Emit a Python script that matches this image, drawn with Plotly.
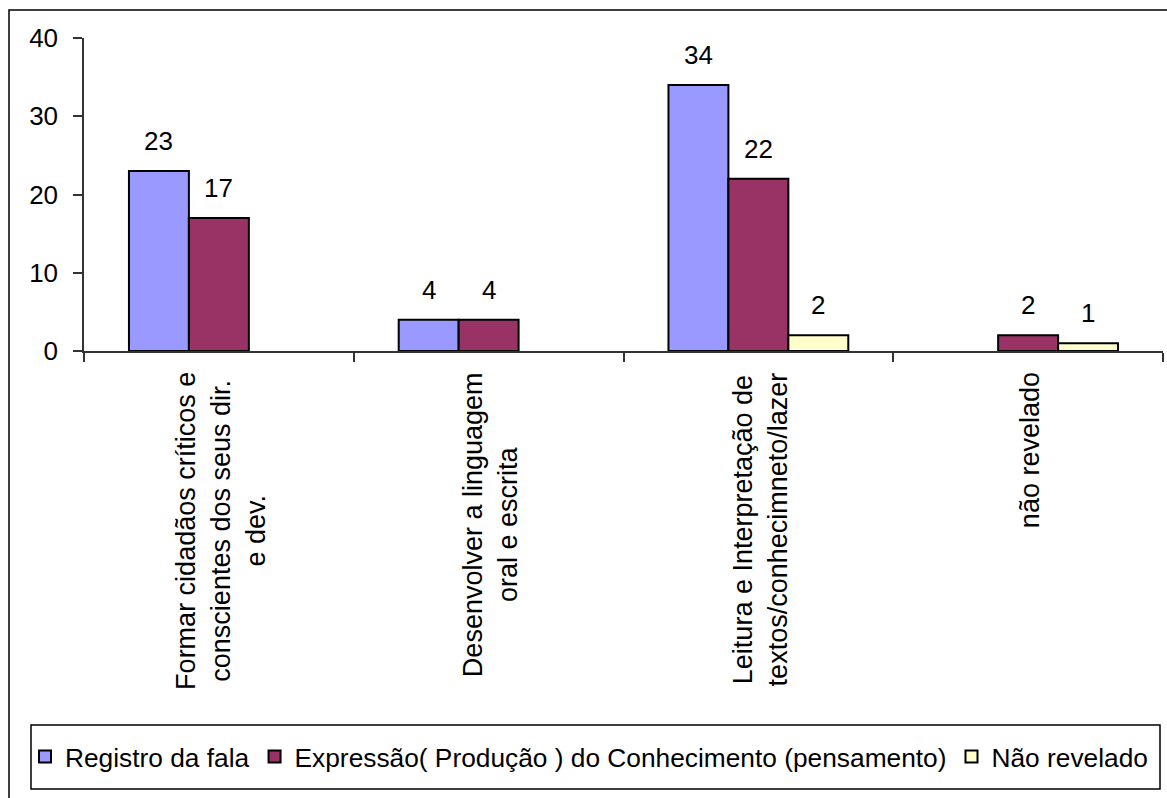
import plotly.graph_objects as go

# Categories (line breaks as they appear under the axis)
categories = [
    "Formar cidadãos críticos e<br>conscientes dos seus dir.<br>e dev.",
    "Desenvolver a linguagem<br>oral e escrita",
    "Leitura e Interpretação de<br>textos/conhecimneto/lazer",
    "não revelado",
]
cat_keys = ["c1", "c2", "c3", "c4"]

# Series values (None = no bar)
registro_da_fala = [23, 4, 34, None]
expressao_conhecimento = [17, 4, 22, 2]
nao_revelado = [None, None, 2, 1]

series_names = [
    "Registro da fala",
    "Expressão( Produção ) do Conhecimento (pensamento)",
    "Não revelado",
]
series_values = [registro_da_fala, expressao_conhecimento, nao_revelado]
series_colors = ["#9999FF", "#993366", "#FFFFCC"]

y_ticks = [0, 10, 20, 30, 40]

W, H = 1167, 798
ML, MR, MT, MB = 84, 4, 38, 447
PW, PH = W - ML - MR, H - MT - MB
FONT = "Liberation Sans, Arial, sans-serif"
FS = 26
BARGAP = 1 / 3


def px(xp):
    return (xp - ML) / PW


def py(yp):
    return (H - MB - yp) / PH


fig = go.Figure()
for name, vals, col in zip(series_names, series_values, series_colors):
    fig.add_trace(go.Bar(
        x=cat_keys, y=vals, name=name,
        marker=dict(color=col, line=dict(color="black", width=2)),
    ))

# Value labels above each bar
n = len(series_values)
bw = (1 - BARGAP) / n
annotations = []
for k, vals in enumerate(series_values):
    for i, v in enumerate(vals):
        if v is None:
            continue
        annotations.append(dict(
            x=i + (k - (n - 1) / 2) * bw, y=v, xref="x", yref="y",
            text=str(v), showarrow=False, yanchor="bottom", yshift=13,
            font=dict(family=FONT, size=FS, color="black"),
        ))

# Rotated category labels, lines centered
for i, lab in enumerate(categories):
    annotations.append(dict(
        x=i, y=py(370), xref="x", yref="paper",
        text=lab, showarrow=False, textangle=-90,
        xanchor="center", yanchor="top", align="center", xshift=2,
        font=dict(family=FONT, size=27, color="black"),
    ))

shapes = [
    # chart area border
    dict(type="rect", xref="paper", yref="paper",
         x0=px(9), x1=px(1175), y0=py(805), y1=py(10),
         line=dict(color="black", width=1.5), fillcolor="rgba(0,0,0,0)"),
    # legend frame
    dict(type="rect", xref="paper", yref="paper",
         x0=px(31), x1=px(1160), y0=py(789), y1=py(725),
         line=dict(color="black", width=1.5), fillcolor="rgba(0,0,0,0)"),
]

fig.update_layout(
    width=W, height=H,
    margin=dict(l=ML, r=MR, t=MT, b=MB, pad=0, autoexpand=False),
    paper_bgcolor="white", plot_bgcolor="white",
    barmode="group", bargap=BARGAP, bargroupgap=0,
    font=dict(family=FONT, size=FS, color="black"),
    showlegend=True,
    legend=dict(
        orientation="h",
        x=px(25), xanchor="left",
        y=py(757), yanchor="middle",
        font=dict(family=FONT, size=26.3, color="black"),
        bgcolor="rgba(0,0,0,0)", borderwidth=0,
        itemwidth=30, tracegroupgap=0,
    ),
    annotations=annotations,
    shapes=shapes,
)

fig.update_xaxes(
    type="category", categoryorder="array", categoryarray=cat_keys,
    showticklabels=False, showgrid=False, zeroline=False,
    showline=True, linecolor="#333333", linewidth=1.5,
    ticks="outside", tickson="boundaries", ticklen=9,
    tickcolor="#333333", tickwidth=1.5,
)
fig.update_yaxes(
    range=[0, 40], tickvals=y_ticks, showgrid=False, zeroline=False,
    showline=True, linecolor="#333333", linewidth=1.5,
    ticks="outside", ticklen=9, tickcolor="#333333", tickwidth=1.5,
    ticklabelstandoff=10,
    tickfont=dict(family=FONT, size=FS, color="black"),
)

fig.write_html("out.html")
